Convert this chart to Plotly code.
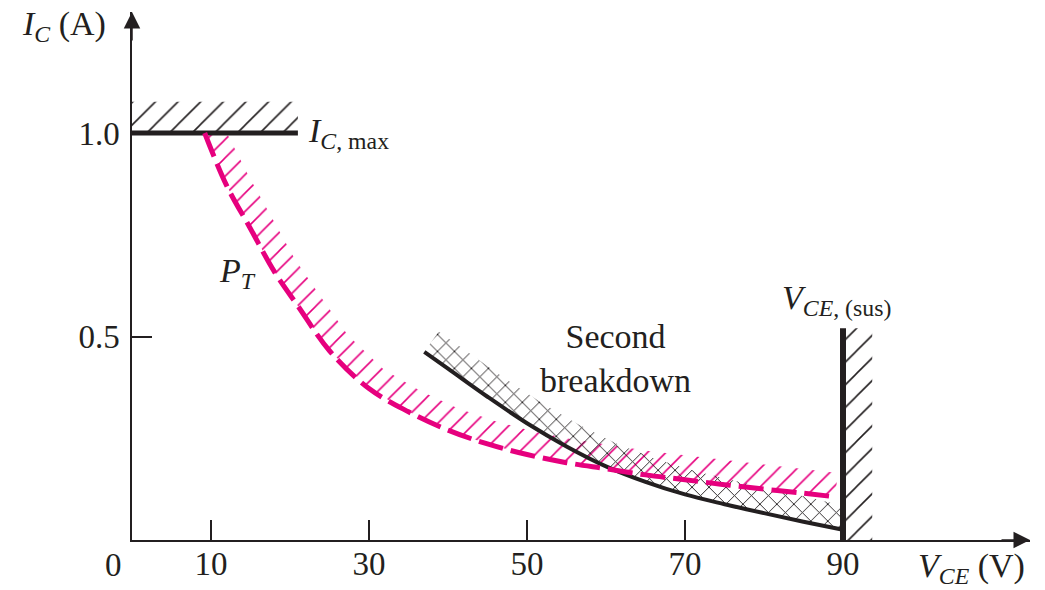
import numpy as np
import plotly.graph_objects as go

# ---- data -------------------------------------------------------------
vce_ticks = [10, 30, 50, 70, 90]
ic_ticks = [0.5, 1.0]
ic_tick_text = ["0.5", "1.0"]

# collector current limit
ic_max = 1.0
ic_max_vce = [0, 21]

# sustaining voltage limit
vce_sus = 90
vce_sus_top = 0.52

# total power dissipation limit (P_T)
pt_vce = [9.2, 12, 15, 18, 21, 25, 30, 35, 40, 45, 50, 55, 60, 65, 70, 75, 80, 85, 89]
pt_ic = [1.0, 0.87, 0.765, 0.66, 0.575, 0.465, 0.372, 0.315, 0.27, 0.236, 0.21,
         0.19, 0.175, 0.16, 0.148, 0.136, 0.125, 0.115, 0.106]

# second-breakdown limit
sb_vce = [37, 40, 45, 50, 55, 60, 65, 70, 75, 80, 85, 90]
sb_ic = [0.462, 0.421, 0.352, 0.287, 0.23, 0.181, 0.143, 0.112, 0.088, 0.066, 0.045, 0.025]

# ---- geometry -----------------------------------------------------------
W, H = 1045, 590
ML, MR, MT, MB = 132, 15, 12, 50
PX_X, PX_Y = 7.9, 407.0          # pixels per volt / per ampere
X_MAX = (W - ML - MR) / PX_X
Y_MAX = (H - MT - MB) / PX_Y

INK = "#231f20"
PINK = "#e6007e"
FONT = "Liberation Serif"


def offset_curve(xs, ys, d_px):
    """Shift a curve by d_px pixels along its up-right normal."""
    xs = np.asarray(xs, float)
    ys = np.asarray(ys, float)
    px, py = xs * PX_X, ys * PX_Y
    tx, ty = np.gradient(px), np.gradient(py)
    n = np.hypot(tx, ty)
    return xs + (-ty / n) * d_px / PX_X, ys + (tx / n) * d_px / PX_Y


def band(xs, ys, ux, uy):
    return np.concatenate([xs, ux[::-1]]), np.concatenate([ys, uy[::-1]])


def hatch(shape, color, size, solidity):
    return dict(shape=shape, fgcolor=color, bgcolor="rgba(0,0,0,0)",
                fgopacity=1, size=size, solidity=solidity)


fig = go.Figure()

# hatched band above the P_T curve
ux, uy = offset_curve(pt_vce, pt_ic, 24)
uy = np.minimum(uy, ic_max)
ux = np.minimum(ux, 89.5)
bx, by = band(np.array(pt_vce, float), np.array(pt_ic, float), ux, uy)
fig.add_trace(go.Scatter(
    x=bx, y=by, mode="lines", fill="toself", line=dict(width=0),
    fillcolor="rgba(0,0,0,0)", fillpattern=hatch("/", PINK, 13, 0.12),
    hoverinfo="skip", showlegend=False))

# cross-hatched band above the second-breakdown curve
ux, uy = offset_curve(sb_vce, sb_ic, 25)
ux = np.minimum(ux, 89.7)
bx, by = band(np.array(sb_vce, float), np.array(sb_ic, float), ux, uy)
fig.add_trace(go.Scatter(
    x=bx, y=by, mode="lines", fill="toself", line=dict(width=0),
    fillcolor="rgba(0,0,0,0)", fillpattern=hatch("x", INK, 12, 0.15),
    hoverinfo="skip", showlegend=False))

# hatch above I_C,max
fig.add_trace(go.Scatter(
    x=[ic_max_vce[0], ic_max_vce[1], ic_max_vce[1], ic_max_vce[0]],
    y=[ic_max, ic_max, ic_max + 0.077, ic_max + 0.077],
    mode="lines", fill="toself", line=dict(width=0),
    fillcolor="rgba(0,0,0,0)", fillpattern=hatch("/", INK, 16, 0.1),
    hoverinfo="skip", showlegend=False))

# hatch right of V_CE,(sus)
fig.add_trace(go.Scatter(
    x=[vce_sus, vce_sus + 3.7, vce_sus + 3.7, vce_sus],
    y=[0, 0, vce_sus_top, vce_sus_top],
    mode="lines", fill="toself", line=dict(width=0),
    fillcolor="rgba(0,0,0,0)", fillpattern=hatch("/", INK, 16, 0.1),
    hoverinfo="skip", showlegend=False))

# limit lines
fig.add_trace(go.Scatter(x=ic_max_vce, y=[ic_max, ic_max], mode="lines",
                         line=dict(color=INK, width=5), showlegend=False))
fig.add_trace(go.Scatter(x=sb_vce, y=sb_ic, mode="lines",
                         line=dict(color=INK, width=4, shape="spline"),
                         showlegend=False))
fig.add_trace(go.Scatter(x=pt_vce, y=pt_ic, mode="lines",
                         line=dict(color=PINK, width=5, shape="spline",
                                   dash="25px,8px"),
                         showlegend=False))
fig.add_trace(go.Scatter(x=[vce_sus, vce_sus], y=[0, vce_sus_top], mode="lines",
                         line=dict(color=INK, width=6), showlegend=False))

axis_common = dict(showline=True, linecolor=INK, linewidth=1.5,
                   ticks="inside", ticklen=20, tickwidth=1.5, tickcolor=INK,
                   showgrid=False, zeroline=False, automargin=False,
                   tickfont=dict(family=FONT, size=33, color=INK))

fig.update_layout(
    width=W, height=H,
    margin=dict(l=ML, r=MR, t=MT, b=MB, pad=0, autoexpand=False),
    paper_bgcolor="white", plot_bgcolor="white",
    xaxis=dict(range=[0, X_MAX], tickvals=vce_ticks, ticklabelstandoff=-6,
               **axis_common),
    yaxis=dict(range=[0, Y_MAX], tickvals=ic_ticks, ticktext=ic_tick_text,
               ticklabelstandoff=4, **axis_common),
    font=dict(family=FONT, size=33, color=INK),
)

# axis arrowheads
arrow = dict(text="", showarrow=True, arrowhead=2, arrowsize=2.2,
             arrowwidth=1.5, arrowcolor=INK, xref="x", yref="y",
             standoff=0, startstandoff=0)
fig.add_annotation(x=X_MAX, y=0, ax=-30, ay=0, **arrow)
fig.add_annotation(x=0, y=Y_MAX, ax=0, ay=30, **arrow)


# labels, placed in volt / ampere units (paper refs so they may sit outside the axes)
def label(x, y, text, xanchor="left", size=34):
    fig.add_annotation(x=x / X_MAX, y=y / Y_MAX, text=text, showarrow=False,
                       xref="paper", yref="paper",
                       xanchor=xanchor, yanchor="middle",
                       font=dict(family=FONT, size=size, color=INK))


label(-2.3, -0.062, "0", xanchor="center", size=33)
label(-14.2, 1.262, "<i>I</i><sub><i>C</i></sub> (A)")
label(99.2, -0.068, "<i>V</i><sub><i>CE</i></sub> (V)")
label(22.0, 1.0, "<i>I</i><sub><i>C</i>, max</sub>")
label(10.8, 0.655, "<i>P</i><sub><i>T</i></sub>")
label(82.0, 0.59, "<i>V</i><sub><i>CE</i>, (sus)</sub>")
label(61.2, 0.447, "Second<br>breakdown", xanchor="center")

fig.write_html("out.html")
